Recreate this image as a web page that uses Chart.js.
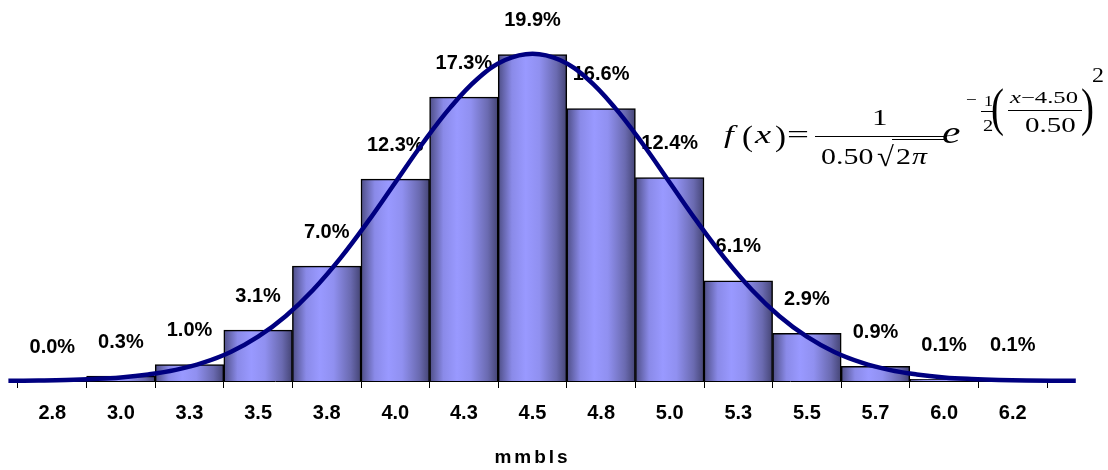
<!DOCTYPE html>
<html>
<head>
<meta charset="utf-8">
<script src="https://cdn.jsdelivr.net/npm/chart.js@4/dist/chart.umd.min.js"></script>
<style>
  html, body { margin: 0; padding: 0; background: #fff; }
  #wrap { position: relative; width: 1108px; height: 470px; overflow: hidden; }
  #c { position: absolute; left: 0; top: 0; }
  .eq { position: absolute; font-family: "Liberation Serif", "Times New Roman", serif; line-height: 1; color: #000; white-space: nowrap; transform-origin: 0 0; }
  .it { font-style: italic; }
  .bar { position: absolute; background: #000; }
</style>
</head>
<body>
<div id="wrap">
  <canvas id="c" width="1108" height="470"></canvas>
  <!-- formula -->
  <span class="eq it" style="left:724px; top:122px; font-size:26px; transform:scaleX(1.35);">f</span>
  <span class="eq" style="left:742px; top:121px; font-size:30px; transform:scaleX(1.1);">(</span>
  <span class="eq it" style="left:755px; top:122px; font-size:26px; transform:scaleX(1.4);">x</span>
  <span class="eq" style="left:775px; top:121px; font-size:30px; transform:scaleX(1.1);">)</span>
  <span class="eq" style="left:787px; top:122px; font-size:26px; transform:scaleX(1.5);">=</span>
  <span class="eq" style="left:872px; top:106px; font-size:23px; transform:scaleX(1.35);">1</span>
  <div class="bar" style="left:815px; top:136px; width:132px; height:1.3px;"></div>
  <span class="eq" style="left:821px; top:145px; font-size:23px; transform:scaleX(1.3);">0.50</span>
  <span class="eq" style="left:877px; top:143px; font-size:28px; transform:scaleX(1.1);">√</span>
  <div class="bar" style="left:892px; top:139px; width:53px; height:1px;"></div>
  <span class="eq" style="left:896px; top:145px; font-size:23px; transform:scaleX(1.3);">2</span>
  <span class="eq it" style="left:912px; top:145px; font-size:23px; transform:scaleX(1.3);">π</span>
  <span class="eq it" style="left:942px; top:116px; font-size:32px; transform:scaleX(1.3);">e</span>
  <span class="eq" style="left:966px; top:92px; font-size:16px; transform:scaleX(1.2);">−</span>
  <span class="eq" style="left:984px; top:94px; font-size:15px; transform:scaleX(1.2);">1</span>
  <div class="bar" style="left:981px; top:111px; width:12px; height:1px;"></div>
  <span class="eq" style="left:983px; top:117px; font-size:17px; transform:scaleX(1.2);">2</span>
  <span class="eq" style="left:991px; top:82px; font-size:52px; transform:scaleX(0.75);">(</span>
  <span class="eq" style="left:1010px; top:89px; font-size:17px; transform:scaleX(1.45);"><span class="it">x</span>−4.50</span>
  <div class="bar" style="left:1008px; top:110px; width:74px; height:1px;"></div>
  <span class="eq" style="left:1025px; top:115px; font-size:20px; transform:scaleX(1.45);">0.50</span>
  <span class="eq" style="left:1081px; top:82px; font-size:52px; transform:scaleX(0.75);">)</span>
  <span class="eq" style="left:1092px; top:65px; font-size:20px; transform:scaleX(1.2);">2</span>
</div>
<script>
// ---- data ----
const categories = ['2.8','3.0','3.3','3.5','3.8','4.0','4.3','4.5','4.8','5.0','5.3','5.5','5.7','6.0','6.2'];
const percents = [0.0, 0.3, 1.0, 3.1, 7.0, 12.3, 17.3, 19.9, 16.6, 12.4, 6.1, 2.9, 0.9, 0.1, 0.1];
// fitted normal curve (mmbls value -> %)
const curveX = [2.59, 2.7, 2.8, 2.9, 3.0, 3.1, 3.2, 3.3, 3.4, 3.5, 3.6, 3.7, 3.8, 3.9, 4.0, 4.1, 4.2, 4.3, 4.4, 4.5,
                4.6, 4.7, 4.8, 4.9, 5.0, 5.1, 5.2, 5.3, 5.4, 5.5, 5.6, 5.7, 5.8, 5.9, 6.0, 6.1, 6.2, 6.3, 6.48];
const curveY = [0.01, 0.03, 0.06, 0.12, 0.22, 0.40, 0.68, 1.12, 1.77, 2.70, 3.95, 5.55, 7.49, 9.71, 12.10, 14.49, 16.66, 18.42, 19.56, 19.95,
                19.56, 18.42, 16.66, 14.49, 12.10, 9.71, 7.49, 5.55, 3.95, 2.70, 1.77, 1.12, 0.68, 0.40, 0.22, 0.12, 0.06, 0.03, 0.01];
const axisTitle = 'mmbls';
const binStart = 2.625, binEnd = 6.375;

const FONT = 'Arial, "Liberation Sans", sans-serif';

function barGradient(ctx) {
  const chart = ctx.chart;
  const xs = chart.scales.x;
  if (!chart.chartArea || !xs || ctx.type !== 'data') return '#9999ff';
  const cx = xs.getPixelForValue(ctx.dataIndex);
  const w = (xs.right - xs.left) / categories.length;
  const g = chart.ctx.createLinearGradient(cx - w / 2, 0, cx + w / 2, 0);
  g.addColorStop(0, '#4e4e86');
  g.addColorStop(0.2, '#8a8ae8');
  g.addColorStop(0.4, '#9999ff');
  g.addColorStop(0.6, '#9090f0');
  g.addColorStop(0.85, '#6a6ab0');
  g.addColorStop(1, '#444474');
  return g;
}

// axis title is drawn letter-spaced (title layer is drawn before datasets, tick labels after)
const spacingPlugin = {
  id: 'titleSpacing',
  beforeDraw(chart) { chart.ctx.letterSpacing = '3px'; },
  beforeDatasetsDraw(chart) { chart.ctx.letterSpacing = '0px'; }
};

const labelPlugin = {
  id: 'barLabels',
  afterDatasetDraw(chart, args) {
    if (args.index !== 0) return;
    const meta = chart.getDatasetMeta(0);
    const c = chart.ctx;
    c.save();
    c.letterSpacing = '0px';
    c.font = 'bold 20px ' + FONT;
    c.fillStyle = '#000';
    c.textAlign = 'center';
    c.textBaseline = 'middle';
    meta.data.forEach((el, i) => {
      c.fillText(percents[i].toFixed(1) + '%', el.x, el.y - 34);
    });
    c.restore();
  }
};

new Chart(document.getElementById('c'), {
  type: 'bar',
  data: {
    labels: categories,
    datasets: [
      {
        type: 'bar',
        data: percents,
        xAxisID: 'x',
        yAxisID: 'y',
        backgroundColor: barGradient,
        borderColor: '#000',
        borderWidth: 1.5,
        barPercentage: 1,
        categoryPercentage: 1,
        grouped: false,
        order: 1
      },
      {
        type: 'line',
        data: curveX.map((x, i) => ({ x: x, y: curveY[i] })),
        xAxisID: 'x2',
        yAxisID: 'y',
        borderColor: '#000080',
        borderWidth: 4.5,
        pointRadius: 0,
        tension: 0.4,
        fill: false,
        clip: false,
        order: 0
      }
    ]
  },
  options: {
    responsive: false,
    animation: false,
    events: [],
    layout: { padding: { left: 18, right: 61, top: 20, bottom: 0 } },
    plugins: { legend: { display: false }, tooltip: { enabled: false } },
    scales: {
      x: {
        type: 'category',
        offset: true,
        grid: { offset: true, drawOnChartArea: false, drawTicks: true, tickLength: 7, color: '#000', lineWidth: 1 },
        border: { display: true, color: '#000', width: 1 },
        ticks: { z: 1, color: '#000', font: { family: FONT, size: 20, weight: 'bold' }, padding: 13, maxRotation: 0, autoSkip: false },
        title: { display: true, text: axisTitle, color: '#000', font: { family: FONT, size: 19, weight: 'bold' }, padding: { top: 4, bottom: 1 } },
        afterFit: s => { s.height = 89; }
      },
      x2: {
        type: 'linear',
        display: false,
        offset: false,
        grid: { offset: false },
        bounds: 'data',
        afterDataLimits: s => { s.min = binStart; s.max = binEnd; }
      },
      y: { display: false, min: 0, max: 22 }
    }
  },
  plugins: [spacingPlugin, labelPlugin]
});
</script>
</body>
</html>
